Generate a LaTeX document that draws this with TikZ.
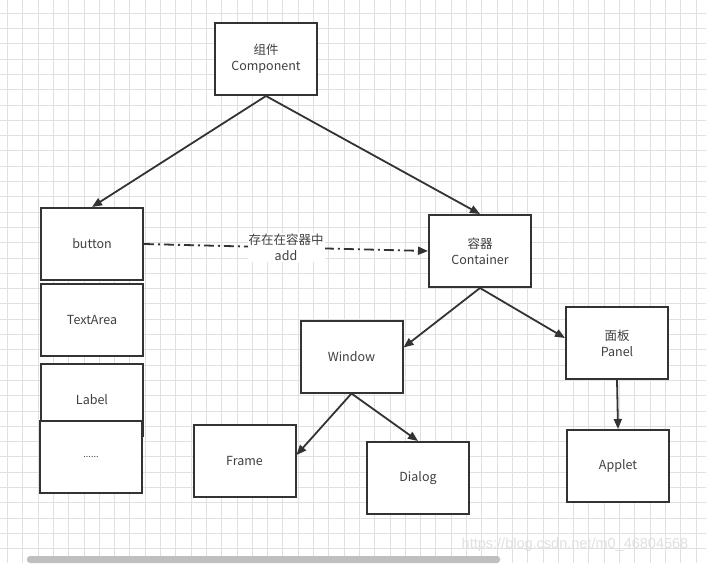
\documentclass[tikz,border=0pt]{standalone}
\usepackage{fontspec}
\newfontfamily\cjk{Noto Sans CJK SC}
\newfontfamily\wmfont{Liberation Sans}
\usetikzlibrary{arrows.meta}
\begin{document}
\begin{tikzpicture}[x=1pt,y=-1pt,
  box/.style={draw=black!80, line width=2pt, fill=white, minimum width=102pt, minimum height=72pt, inner sep=0pt, align=center, font=\cjk\fontsize{12.5}{16}\selectfont, text=black!75},
  arr/.style={-{Triangle[length=10pt,width=8pt]}, line width=1.8pt, draw=black!80},
  gridline/.style={draw=black!12, line width=0.6pt}]
\fill[white] (0,0) rectangle (706,563);
\useasboundingbox (0,0) rectangle (706,563);
\foreach \i in {0,...,46} \draw[gridline] ({7.3+15.3*\i},0) -- ({7.3+15.3*\i},563);
\foreach \i in {0,...,36} \draw[gridline] (0,{13+15.3*\i}) -- (706,{13+15.3*\i});

\node[box] (comp) at (266,59) {组件\\Component};
\node[box] (button) at (92,244) {button};
\node[box] (textarea) at (92,319.5) {TextArea};
\node[box] (label) at (92,400) {Label};
\node[box] (dots) at (91,457) {\fontsize{9}{10}\selectfont ......};
\node[box] (cont) at (480,251) {容器\\Container};
\node[box] (window) at (351.5,356.5) {Window};
\node[box] (panel) at (617,343) {面板\\Panel};
\node[box] (frame) at (244.5,461) {Frame};
\node[box] (dialog) at (418,478) {Dialog};
\node[box] (applet) at (618,466) {Applet};

\draw[arr] (comp.south) -- (button.north);
\draw[arr] (comp.south) -- (cont.north);
\draw[arr] (cont.south) -- ([yshift=9pt]window.east);
\draw[arr] (cont.south) -- ([yshift=5pt]panel.west);
\draw[arr] (window.south) -- ([yshift=6pt]frame.east);
\draw[arr] (window.south) -- (dialog.north);
\draw[arr] (panel.south) -- (applet.north);
\draw[arr, dash pattern=on 10pt off 4pt on 2pt off 4pt] (button.east) -- (cont.west)
  node[midway, fill=white, inner sep=1pt, align=center, font=\cjk\fontsize{12.5}{16}\selectfont, text=black!75] (lbl) {存在在容器中\\add};

\node[font=\wmfont\fontsize{14.5}{16}\selectfont, text=black!12] (wm) at (575,545) {https://blog.csdn.net/m0\_46804568};
\fill[black!25, rounded corners=3pt] (27,556) rectangle (500,563);
\end{tikzpicture}
\end{document}
